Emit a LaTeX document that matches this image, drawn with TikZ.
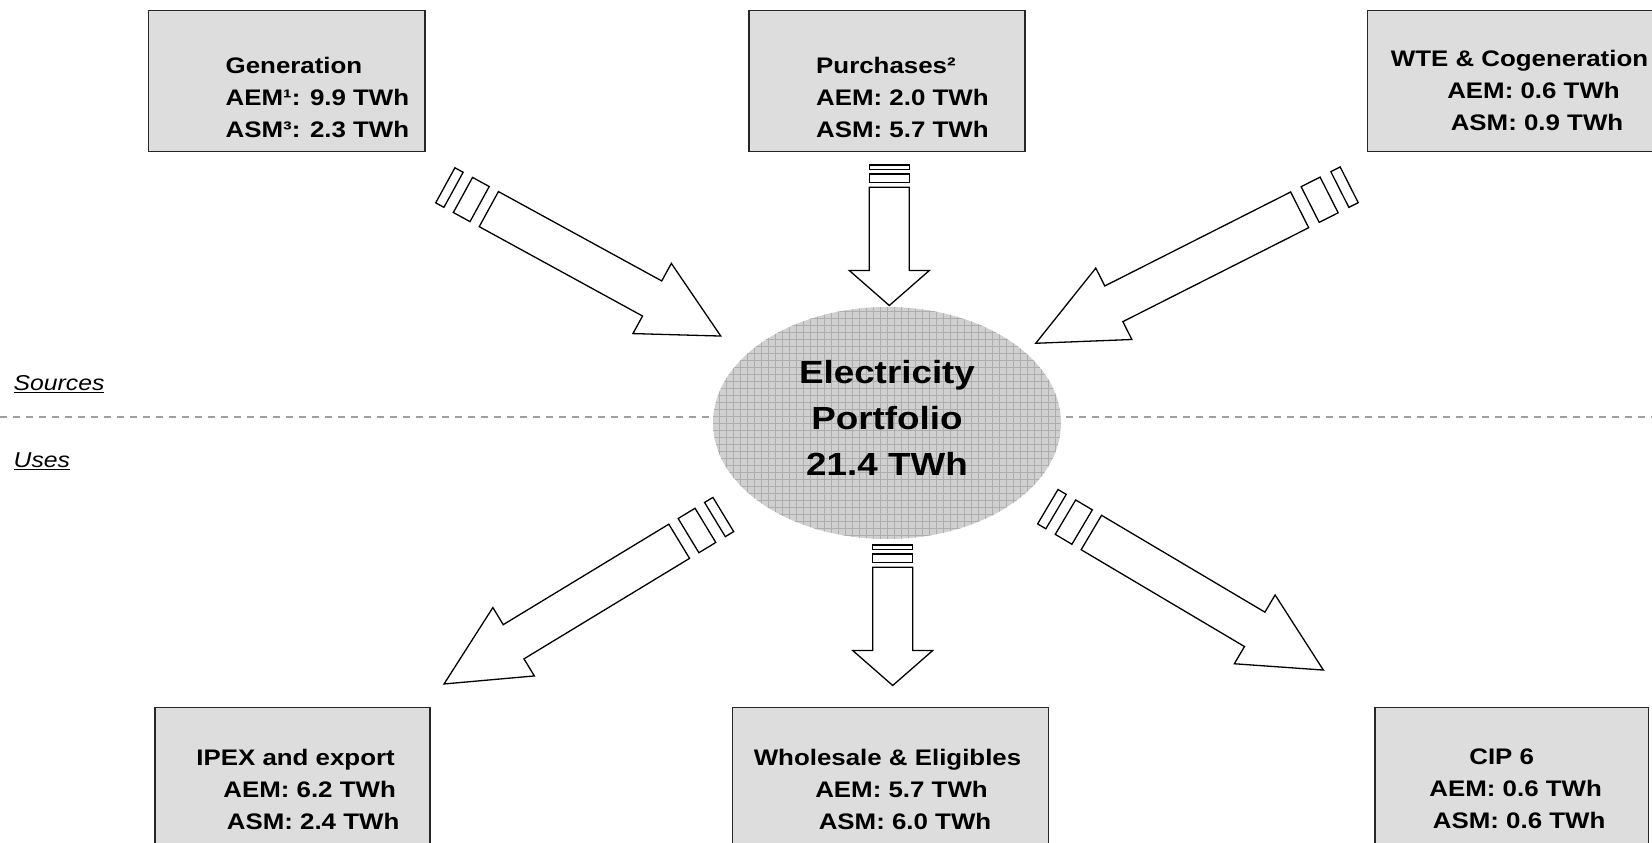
\documentclass[tikz,border=0pt]{standalone}
\usepackage{fontspec}
\setmainfont{Liberation Sans}[FakeStretch=1.15]
\usetikzlibrary{shapes.geometric}

\definecolor{boxgray}{HTML}{DDDDDD}
\definecolor{ellgray}{HTML}{D0D0D0}
\definecolor{gridgray}{HTML}{ADADAD}
\definecolor{dashgray}{HTML}{A0A0A0}

\newcommand{\padtwo}{\hspace*{28pt}}
\newcommand{\padthree}{\hspace*{35pt}}

\begin{document}
\begin{tikzpicture}[x=1pt, y=-1pt]
    \tikzset{
      flowbox/.style={draw=black!85, line width=1.3pt, fill=boxgray, inner sep=0pt, minimum height=140.9pt},
      boxtext/.style={font=\fontsize{22.5}{32}\selectfont\bfseries, inner sep=0pt},
      sidelabel/.style={font=\fontsize{21.5}{26}\selectfont\itshape, inner sep=0pt, anchor=base west},
      arrowline/.style={draw=black, line width=1.3pt, fill=white, line join=miter},
      flowarrow/.pic={
        \path[arrowline] (0,-20) -- (4.2,-20) -- (4.2,20) -- (0,20) -- cycle;
        \path[arrowline] (9,-20) -- (17.5,-20) -- (17.5,20) -- (9,20) -- cycle;
        \path[arrowline] (22.2,-20) -- (105.5,-20) -- (105.5,-40) -- (140.5,0)
          -- (105.5,40) -- (105.5,20) -- (22.2,20) -- cycle;
      }
    }

    \useasboundingbox (0,0) rectangle (1652,843);
    \clip (0,0) rectangle (1652,843);

    \coordinate (divl) at (0,417);
    \coordinate (divr) at (1652,417);
    \draw[dashgray, line width=1.2pt, dash pattern=on 7pt off 6pt] (divl) -- (divr);

    \node[sidelabel] (sources) at (13.5,390.5) {\underline{Sources}};
    \node[sidelabel] (uses) at (13.5,467.5) {\underline{Uses}};

    \node[ellipse, fill=ellgray, inner sep=0pt, minimum width=348pt, minimum height=232pt,
      path picture={\draw[gridgray, line width=0.5pt, step=7pt]
        (path picture bounding box.south west) grid (path picture bounding box.north east);}]
      (port) at (887,423) {};
    \node[font=\fontsize{32}{46}\selectfont\bfseries, align=center, inner sep=0pt]
      (porttext) at ([yshift=5.4pt]port.center) {Electricity\\Portfolio\\21.4 TWh};

    \node[flowbox, minimum width=276.7pt] (gen) at (286.7,81.3) {};
    \node[flowbox, minimum width=276pt] (pur) at (887,81.3) {};
    \node[flowbox, minimum width=306pt] (wte) at (1520.3,81.3) {};
    \node[flowbox, minimum width=275pt, minimum height=143pt] (ipex) at (292.4,778.7) {};
    \node[flowbox, minimum width=315.6pt, minimum height=143pt] (whole) at (890.5,778.7) {};
    \node[flowbox, minimum width=273.3pt, minimum height=143pt] (cip) at (1511.7,778.7) {};

    \node[boxtext, align=left, anchor=west] (gentext) at (225.5,97.5) {Generation\\AEM¹: 9.9 TWh\\ASM³: 2.3 TWh};
    \node[boxtext, align=left, anchor=west] (purtext) at (816,97.5) {Purchases²\\AEM: 2.0 TWh\\ASM: 5.7 TWh};
    \node[boxtext, align=center] (wtetext) at (1519.5,90.5) {WTE \& Cogeneration\\\padtwo AEM: 0.6 TWh\\\padthree ASM: 0.9 TWh};
    \node[boxtext, align=center] (ipextext) at (295.6,789) {IPEX and export\\\padtwo AEM: 6.2 TWh\\\padthree ASM: 2.4 TWh};
    \node[boxtext, align=center] (wholetext) at (887.5,789) {Wholesale \& Eligibles\\\padtwo AEM: 5.7 TWh\\\padthree ASM: 6.0 TWh};
    \node[boxtext, align=center] (ciptext) at (1501.7,789) {CIP 6\\\padtwo AEM: 0.6 TWh\\\padthree ASM: 0.6 TWh};

    \pic[rotate=-28.69, xscale=2.235] at (445.3,185.3) {flowarrow};
    \pic[rotate=-90] at (889.3,165) {flowarrow};
    \pic[rotate=-153.18, xscale=2.5] at (1349.2,184.8) {flowarrow};
    \pic[rotate=-148.75, xscale=2.325] at (723.3,514.5) {flowarrow};
    \pic[rotate=-90] at (892.7,545) {flowarrow};
    \pic[rotate=-30.66, xscale=2.28] at (1047.8,506.7) {flowarrow};
\end{tikzpicture}
\end{document}
